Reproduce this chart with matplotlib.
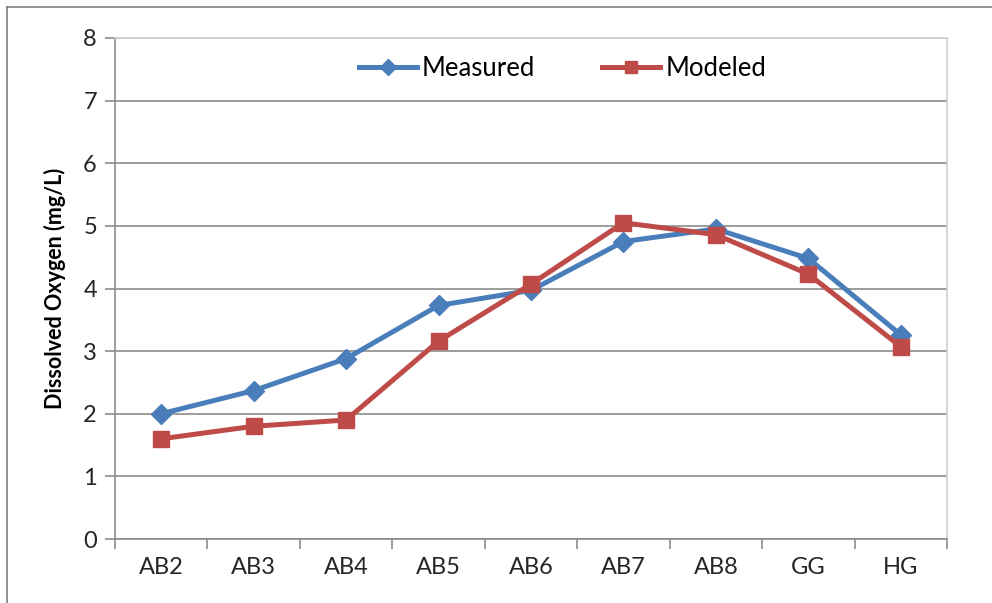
import matplotlib
matplotlib.use("Agg")
import matplotlib.pyplot as plt
from matplotlib.lines import Line2D

sites = ["AB2", "AB3", "AB4", "AB5", "AB6", "AB7", "AB8", "GG", "HG"]
measured = [2.00, 2.37, 2.88, 3.73, 3.97, 4.75, 4.95, 4.48, 3.26]
modeled = [1.60, 1.80, 1.90, 3.16, 4.07, 5.05, 4.86, 4.23, 3.07]
yticks = [0, 1, 2, 3, 4, 5, 6, 7, 8]

plt.rcParams['font.family'] = ['Lato', 'DejaVu Sans']

fig = plt.figure(figsize=(9.92, 6.03), dpi=100)
ax = fig.add_axes([115/992, 1-539/603, (947-115)/992, (539-38)/603])

x = list(range(len(sites)))
ax.plot(x, measured, color='#4A7EBB', lw=3.6, marker='D', ms=10.5, label='Measured', zorder=3)
ax.plot(x, modeled, color='#BE4B48', lw=3.6, marker='s', ms=11.5, label='Modeled', zorder=4)

ax.set_xlim(-0.5, len(sites)-0.5)
ax.set_ylim(0, 8)
ax.set_yticks(yticks)
ax.set_xticks(x)
ax.set_xticklabels(sites)
ax.yaxis.grid(True, color='#8C8C8C', lw=1.2)
ax.set_axisbelow(True)

# category boundary ticks
ax.set_xticks([i - 0.5 for i in range(len(sites)+1)], minor=True)
ax.tick_params(axis='x', which='major', length=0, pad=13, labelsize=17, colors='#262626')
ax.tick_params(axis='x', which='minor', length=7, color='#8C8C8C', width=1.2)
ax.tick_params(axis='y', length=7, color='#8C8C8C', width=1.2, pad=6, labelsize=17, colors='#262626')

for s in ['left', 'bottom']:
    ax.spines[s].set_color('#8C8C8C')
    ax.spines[s].set_linewidth(1.2)
for s in ['top', 'right']:
    ax.spines[s].set_color('#D0D0D0')
    ax.spines[s].set_linewidth(1.2)

ax.set_ylabel('Dissolved Oxygen (mg/L)', fontsize=15.5, fontweight='bold', labelpad=12)

ax.legend(loc='center', bbox_to_anchor=(0.538, 0.940), ncol=2, frameon=False,
          fontsize=18.5, handlelength=2.25, columnspacing=2.6, handletextpad=0.2,
          markerscale=0.75)

# outer chart frame
fig.add_artist(Line2D([7/992, 7/992], [0, 1-7/603], color='#7F7F7F', lw=1.2))
fig.add_artist(Line2D([7/992, 1], [1-7/603, 1-7/603], color='#7F7F7F', lw=1.2))

fig.savefig('out.png', dpi=100)
